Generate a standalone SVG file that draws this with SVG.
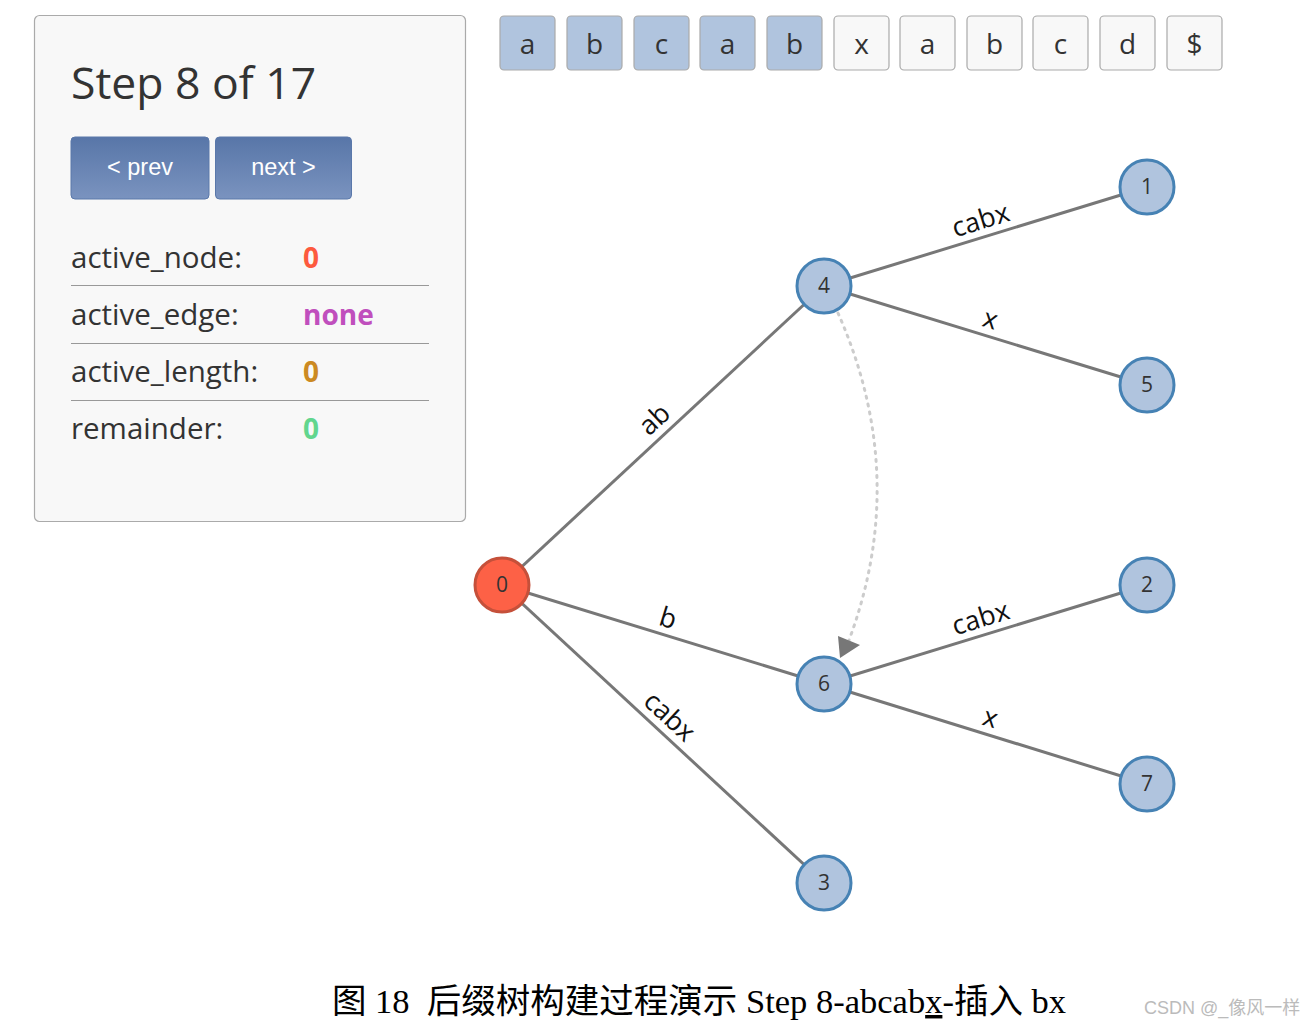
<svg xmlns="http://www.w3.org/2000/svg" width="1316" height="1026" viewBox="0 0 1316 1026">
<style>
.ui{font-family:"Open Sans","Noto Sans","DejaVu Sans",sans-serif;fill:#333}
.row{font-size:29.5px}
.val{font-size:28px;font-weight:bold}
.sep{stroke:#999;stroke-width:1.2}
.box{stroke:#aaa;stroke-width:1.2}
.ch{font-size:28px;text-anchor:middle}
.btn{fill:url(#bg);stroke:#5a78aa;stroke-width:1}
.bt{font-family:"Liberation Sans",Arial,sans-serif;font-size:23.5px;fill:#fff;text-anchor:middle}
.edge{stroke:#777;stroke-width:3;fill:none}
.el{font-family:"Open Sans","Noto Sans",sans-serif;font-size:27px;fill:#111;text-anchor:middle}
.node circle{fill:#b0c4de;stroke:#4682b4;stroke-width:3}
.node text{font-family:"Open Sans","Noto Sans",sans-serif;font-size:21px;fill:#333;text-anchor:middle}
#n0 circle{fill:#fd6146;stroke:#c5503a}
</style>
<defs>
<linearGradient id="bg" x1="0" y1="0" x2="0" y2="1">
<stop offset="0" stop-color="#5876a8"/>
<stop offset="1" stop-color="#7a93bf"/>
</linearGradient>
</defs>
<rect width="1316" height="1026" fill="#fff"/>

<g id="panel">
<rect x="34.5" y="15.5" width="431" height="506" rx="5" fill="#f8f8f8" stroke="#aaa" stroke-width="1.2"/>
<text class="ui" x="71" y="99" font-size="44.5">Step 8 of 17</text>
<rect class="btn" x="71" y="137" width="138" height="62" rx="4"/>
<text class="bt" x="140" y="175">&lt; prev</text>
<rect class="btn" x="215.5" y="137" width="136" height="62" rx="4"/>
<text class="bt" x="283.5" y="175">next &gt;</text>
<text class="ui row" x="71" y="268">active_node:</text>
<text class="val" x="303" y="268" font-family="Open Sans,sans-serif" fill="#fd5a3e">0</text>
<line class="sep" x1="71" y1="285.5" x2="429" y2="285.5"/>
<text class="ui row" x="71" y="325">active_edge:</text>
<text class="val" x="303" y="325" font-family="Open Sans,sans-serif" fill="#c04fbd">none</text>
<line class="sep" x1="71" y1="343.5" x2="429" y2="343.5"/>
<text class="ui row" x="71" y="382">active_length:</text>
<text class="val" x="303" y="382" font-family="Open Sans,sans-serif" fill="#cc8a22">0</text>
<line class="sep" x1="71" y1="400.5" x2="429" y2="400.5"/>
<text class="ui row" x="71" y="439">remainder:</text>
<text class="val" x="303" y="439" font-family="Open Sans,sans-serif" fill="#62d68e">0</text>
</g>

<g id="chars">
<rect class="box" x="500" y="16" width="55" height="54" rx="4" fill="#b0c4de"/>
<rect class="box" x="567" y="16" width="55" height="54" rx="4" fill="#b0c4de"/>
<rect class="box" x="634" y="16" width="55" height="54" rx="4" fill="#b0c4de"/>
<rect class="box" x="700" y="16" width="55" height="54" rx="4" fill="#b0c4de"/>
<rect class="box" x="767" y="16" width="55" height="54" rx="4" fill="#b0c4de"/>
<rect class="box" x="834" y="16" width="55" height="54" rx="4" fill="#f8f8f8"/>
<rect class="box" x="900" y="16" width="55" height="54" rx="4" fill="#f8f8f8"/>
<rect class="box" x="967" y="16" width="55" height="54" rx="4" fill="#f8f8f8"/>
<rect class="box" x="1033" y="16" width="55" height="54" rx="4" fill="#f8f8f8"/>
<rect class="box" x="1100" y="16" width="55" height="54" rx="4" fill="#f8f8f8"/>
<rect class="box" x="1167" y="16" width="55" height="54" rx="4" fill="#f8f8f8"/>
<text class="ui ch" x="527.5" y="54">a</text>
<text class="ui ch" x="594.5" y="54">b</text>
<text class="ui ch" x="661.5" y="54">c</text>
<text class="ui ch" x="727.5" y="54">a</text>
<text class="ui ch" x="794.5" y="54">b</text>
<text class="ui ch" x="861.5" y="54">x</text>
<text class="ui ch" x="927.5" y="54">a</text>
<text class="ui ch" x="994.5" y="54">b</text>
<text class="ui ch" x="1060.5" y="54">c</text>
<text class="ui ch" x="1127.5" y="54">d</text>
<text class="ui ch" x="1194.5" y="54">$</text>
</g>

<g id="connectors">
<line class="edge" x1="502" y1="585" x2="824" y2="286"/>
<line class="edge" x1="502" y1="585" x2="824" y2="684"/>
<line class="edge" x1="502" y1="585" x2="824" y2="883"/>
<line class="edge" x1="824" y1="286" x2="1147" y2="187"/>
<line class="edge" x1="824" y1="286" x2="1147" y2="385"/>
<line class="edge" x1="824" y1="684" x2="1147" y2="585"/>
<line class="edge" x1="824" y1="684" x2="1147" y2="784"/>
<path d="M838 313 Q912 480 846 648" fill="none" stroke="#ccc" stroke-width="3" stroke-dasharray="2 6" stroke-linecap="round"/>
<path d="M838 636 L860 645 L840 658 z" fill="#777"/>
<g transform="translate(666 432) rotate(-42.9)"><text class="el" x="0" y="-8">ab</text></g>
<g transform="translate(663 634.5) rotate(17.1)"><text class="el" x="0" y="-8">b</text></g>
<g transform="translate(658 729) rotate(42.8)"><text class="el" x="0" y="-8">cabx</text></g>
<g transform="translate(985.5 236.5) rotate(-17)"><text class="el" x="0" y="-8">cabx</text></g>
<g transform="translate(985.5 335.5) rotate(17)"><text class="el" x="0" y="-8">x</text></g>
<g transform="translate(985.5 634.5) rotate(-17)"><text class="el" x="0" y="-8">cabx</text></g>
<g transform="translate(985.5 734) rotate(17.2)"><text class="el" x="0" y="-8">x</text></g>
</g>

<g id="n0" class="node"><circle cx="502" cy="585" r="27"/><text x="502" y="592">0</text></g>
<g id="n4" class="node"><circle cx="824" cy="286" r="27"/><text x="824" y="293">4</text></g>
<g id="n6" class="node"><circle cx="824" cy="684" r="27"/><text x="824" y="691">6</text></g>
<g id="n3" class="node"><circle cx="824" cy="883" r="27"/><text x="824" y="890">3</text></g>
<g id="n1" class="node"><circle cx="1147" cy="187" r="27"/><text x="1147" y="194">1</text></g>
<g id="n5" class="node"><circle cx="1147" cy="385" r="27"/><text x="1147" y="392">5</text></g>
<g id="n2" class="node"><circle cx="1147" cy="585" r="27"/><text x="1147" y="592">2</text></g>
<g id="n7" class="node"><circle cx="1147" cy="784" r="27"/><text x="1147" y="791">7</text></g>

<g id="caption">
<text x="332" y="1013" font-family="Liberation Serif,Noto Sans CJK SC,serif" font-size="34.5" fill="#000" xml:space="preserve">图 18  后缀树构建过程演示 Step 8-abcab<tspan text-decoration="underline">x</tspan>-插入 bx</text>
<text x="1144" y="1014" font-family="Liberation Sans,Noto Sans CJK SC,sans-serif" font-size="18" fill="#bbb">CSDN @_像风一样</text>
</g>
</svg>
